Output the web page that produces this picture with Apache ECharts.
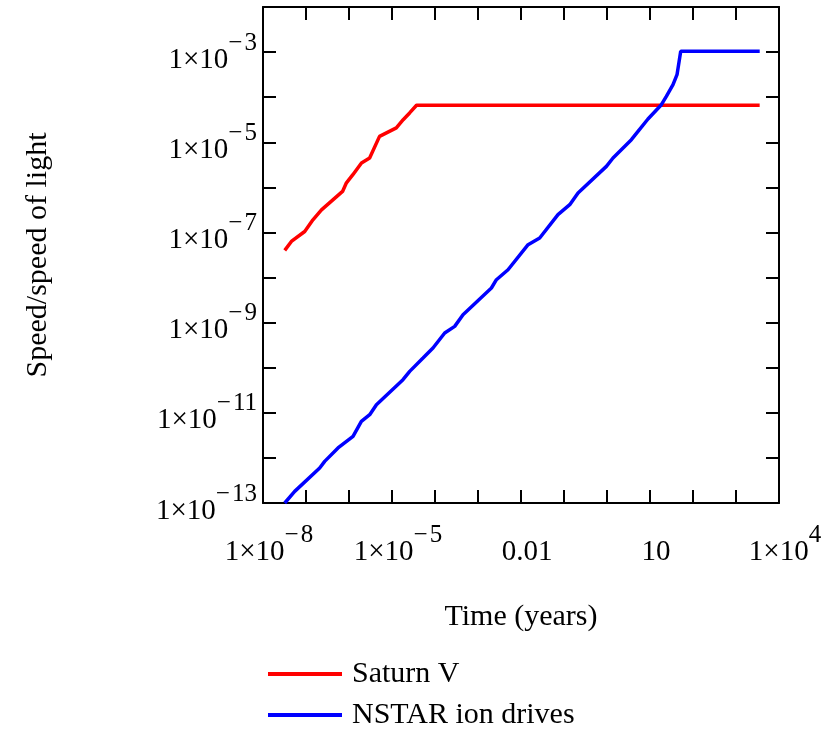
<!DOCTYPE html>
<html>
<head>
<meta charset="utf-8">
<script src="https://cdn.jsdelivr.net/npm/echarts@6/dist/echarts.min.js"></script>
<style>
  html, body { margin: 0; padding: 0; background: #fff; }
  #ECanvas { width: 831px; height: 729px; }
</style>
</head>
<body>
<div id="ECanvas"></div>
<script>
  // time in years, speed as fraction of c
  var saturnTime = [3.2e-8, 4.57e-8, 9.33e-8, 1.45e-7, 2.29e-7, 7.08e-7, 8.71e-7, 1.23e-6, 1.95e-6, 3.02e-6, 5.13e-6, 1.26e-5, 1.82e-5, 2.57e-5, 3.72e-5, 3550];
  var saturnSpeed = [4.0e-8, 6.31e-8, 1.05e-7, 1.91e-7, 3.16e-7, 8.13e-7, 1.26e-6, 1.91e-6, 3.47e-6, 4.47e-6, 1.35e-5, 2.09e-5, 3.16e-5, 4.47e-5, 6.61e-5, 6.61e-5];

  var nstarTime = [3.2e-8, 5.46e-8, 2.08e-7, 2.72e-7, 5.55e-7, 1.24e-6, 1.94e-6, 3.03e-6, 4.34e-6, 1.80e-5, 2.58e-5, 5.26e-5, 8.97e-5, 1.68e-4, 2.87e-4, 4.48e-4, 2.05e-3, 2.68e-3, 4.99e-3, 0.0146, 0.0272, 0.0724, 0.136, 0.212, 0.968, 1.38, 3.69, 5.26, 8.97, 18.4, 24.0, 34.3, 42.5, 51.8, 3560];
  var nstarSpeed = [1.0e-13, 1.81e-13, 5.97e-13, 8.38e-13, 1.66e-12, 3.0e-12, 6.46e-12, 9.08e-12, 1.51e-11, 5.42e-11, 8.30e-11, 1.64e-10, 2.74e-10, 5.89e-10, 8.26e-10, 1.50e-9, 5.86e-9, 8.95e-9, 1.49e-8, 5.35e-8, 7.53e-8, 2.48e-7, 4.13e-7, 7.50e-7, 2.92e-6, 4.48e-6, 1.14e-5, 1.74e-5, 3.28e-5, 6.81e-5, 1.04e-4, 1.89e-4, 3.16e-4, 1.04e-3, 1.04e-3];

  var seriesNames = ['Saturn V', 'NSTAR ion drives'];
  var xLabelExps = [-8, -5, -2, 1, 4];
  var yLabelExps = [-13, -11, -9, -7, -5, -3];

  var font = '"Liberation Serif", "Times New Roman", serif';

  function pairs(xs, ys) {
    var out = [];
    for (var i = 0; i < xs.length; i++) out.push([xs[i], ys[i]]);
    return out;
  }

  function sciLabel(e) {
    if (e === -2) return '{b|0.01}';
    if (e === 1) return '{b|10}';
    return '{b|1×10}{s|' + (e < 0 ? '−\u200a' + (-e) : e) + '}';
  }

  // base text sits low, exponent sits high: padding shifts each inside the line
  var rich = {
    b: { fontFamily: font, fontSize: 29, color: '#000', lineHeight: 28, padding: [16, 0, 0, 0] },
    s: { fontFamily: font, fontSize: 25, color: '#000', lineHeight: 24, padding: [0, 0, 18, 0] }
  };

  var tickStyle = { show: true, inside: true, length: 13, lineStyle: { color: '#000', width: 2 } };
  var lineStyle = { show: true, lineStyle: { color: '#000', width: 2 } };

  var option = {
    backgroundColor: '#fff',
    animation: false,
    grid: { left: 263, right: 52, top: 7, bottom: 226, containLabel: false },
    legend: {
      orient: 'vertical',
      left: 263,
      top: 654,
      height: 90,
      icon: 'rect',
      itemWidth: 74,
      itemHeight: 4,
      itemGap: 11,
      data: seriesNames,
      textStyle: { fontFamily: font, fontSize: 30, color: '#000', lineHeight: 28, padding: [0, 0, 0, 5] }
    },
    xAxis: [
      {
        type: 'log',
        logBase: 10,
        min: 1e-8,
        max: 1e4,
        interval: 1,
        position: 'bottom',
        name: 'Time (years)',
        nameLocation: 'middle',
        nameGap: 99,
        nameTextStyle: { fontFamily: font, fontSize: 30, color: '#000' },
        axisLine: lineStyle,
        axisTick: tickStyle,
        splitLine: { show: false },
        axisLabel: {
          margin: 27,
          padding: [0, 0, 0, 12],
          rich: rich,
          formatter: function (v) {
            var e = Math.round(Math.log10(v));
            return xLabelExps.indexOf(e) >= 0 ? sciLabel(e) : '';
          }
        }
      },
      {
        type: 'log',
        logBase: 10,
        min: 1e-8,
        max: 1e4,
        interval: 1,
        position: 'top',
        axisLine: lineStyle,
        axisTick: tickStyle,
        axisLabel: { show: false },
        splitLine: { show: false }
      }
    ],
    yAxis: [
      {
        type: 'log',
        logBase: 10,
        min: 1e-13,
        max: 1e-2,
        interval: 1,
        position: 'left',
        name: 'Speed/speed of light',
        nameLocation: 'middle',
        nameGap: 210,
        nameRotate: 90,
        nameTextStyle: { fontFamily: font, fontSize: 30, color: '#000' },
        axisLine: lineStyle,
        axisTick: tickStyle,
        splitLine: { show: false },
        axisLabel: {
          margin: 6,
          rich: rich,
          formatter: function (v) {
            var e = Math.round(Math.log10(v));
            return yLabelExps.indexOf(e) >= 0 ? sciLabel(e) : '';
          }
        }
      },
      {
        type: 'log',
        logBase: 10,
        min: 1e-13,
        max: 1e-2,
        interval: 1,
        position: 'right',
        axisLine: lineStyle,
        axisTick: tickStyle,
        axisLabel: { show: false },
        splitLine: { show: false }
      }
    ],
    series: [
      {
        name: seriesNames[0],
        type: 'line',
        xAxisIndex: 0,
        yAxisIndex: 0,
        showSymbol: false,
        symbol: 'none',
        color: '#ff0000',
        lineStyle: { color: '#ff0000', width: 3.5 },
        data: pairs(saturnTime, saturnSpeed)
      },
      {
        name: seriesNames[1],
        type: 'line',
        xAxisIndex: 0,
        yAxisIndex: 0,
        showSymbol: false,
        symbol: 'none',
        color: '#0000ff',
        lineStyle: { color: '#0000ff', width: 3.5 },
        data: pairs(nstarTime, nstarSpeed)
      }
    ]
  };

  var myChart = echarts.init(document.getElementById('ECanvas'));
  myChart.setOption(option);
</script>
</body>
</html>
